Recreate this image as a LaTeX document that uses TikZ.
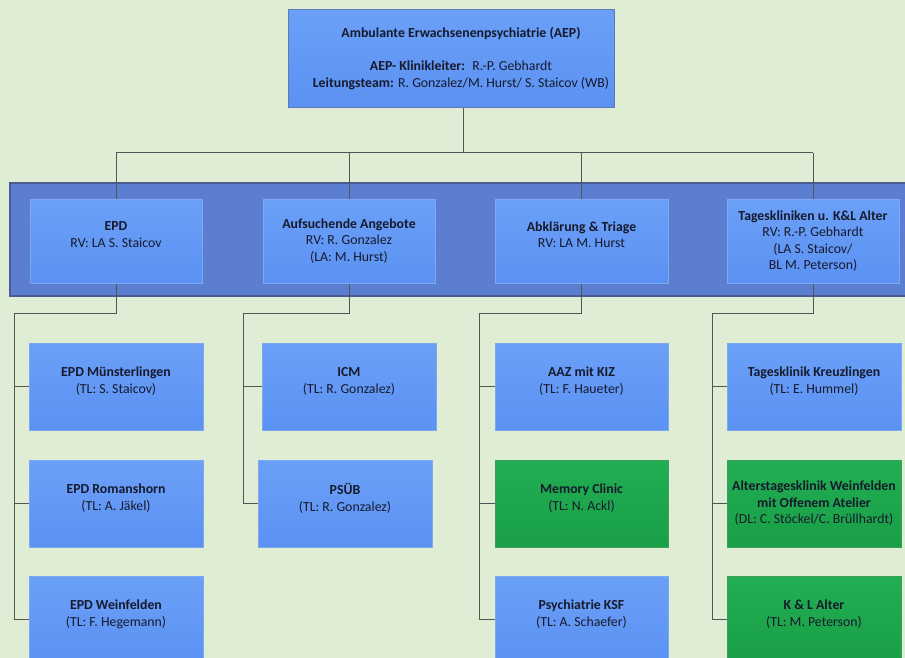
\documentclass[tikz,border=0pt]{standalone}
\usepackage{fontspec}
\setmainfont{Carlito}
\usetikzlibrary{calc}
\pgfdeclarelayer{back}\pgfdeclarelayer{mid}
\pgfsetlayers{back,mid,main}
\definecolor{bgc}{HTML}{E0EDD5}
\definecolor{bluef}{HTML}{5B91F2}
\definecolor{bluet}{HTML}{6BA0F8}
\definecolor{blueb}{HTML}{7EA9F2}
\definecolor{greenf}{HTML}{199F47}
\definecolor{greent}{HTML}{22AE53}
\definecolor{greenb}{HTML}{3E9E5E}
\definecolor{bandf}{HTML}{5B7ED0}
\definecolor{bandb}{HTML}{4A5D8E}
\definecolor{linec}{HTML}{555555}
\definecolor{txt}{HTML}{161A2C}
\begin{document}
\begin{tikzpicture}[x=1pt,y=-1pt,
  box/.style={draw=blueb, line width=0.8pt, top color=bluet, bottom color=bluef,
    text=txt, align=center, font=\fontsize{13.8}{16.5}\selectfont, inner sep=0pt},
  gbox/.style={box, draw=greenb, top color=greent, bottom color=greenf},
  lvtwo/.style={box, minimum width=172pt, minimum height=84pt},
  lvthree/.style={minimum width=174pt, minimum height=87pt},
  conn/.style={draw=linec, line width=1pt}]
\clip (0,0) rectangle (905,658);
\begin{pgfonlayer}{back}
  \fill[bgc] (0,0) rectangle (905,658);
  \path[draw=bandb, line width=1.2pt, fill=bandf] (10,183) rectangle (915,296);
\end{pgfonlayer}

% top
\node[box, minimum width=326pt, minimum height=98pt, draw=bandb!60!blueb] (top) at (451,58.5)
 {\hspace*{20pt}\textbf{Ambulante Erwachsenenpsychiatrie (AEP)}\\[16.5pt]
  \hspace*{20pt}\textbf{AEP- Klinikleiter:}~ R.-P. Gebhardt\\
  \hspace*{20pt}\textbf{Leitungsteam:} R. Gonzalez/M. Hurst/ S. Staicov (WB)};

% level 2
\node[lvtwo] (epd) at (116,241) {\textbf{EPD}\\RV: LA S. Staicov\\[-4pt]\mbox{}};
\node[lvtwo] (auf) at (349,241) {\textbf{Aufsuchende Angebote}\\RV: R. Gonzalez\\(LA: M. Hurst)};
\node[lvtwo, minimum width=173pt] (abk) at (581.5,241) {\textbf{Abklärung \& Triage}\\RV: LA M. Hurst\\[-4pt]\mbox{}};
\node[lvtwo] (tag) at (813,241) {\textbf{Tageskliniken u. K\&L Alter}\\RV: R.-P. Gebhardt\\(LA S. Staicov/\\BL M. Peterson)};

% level 3 column 1
\node[box, lvthree] (muen) at (116,386.5) {\textbf{EPD Münsterlingen}\\(TL: S. Staicov)\\[-4pt]\mbox{}};
\node[box, lvthree] (roma) at (116,503.5) {\textbf{EPD Romanshorn}\\(TL: A. Jäkel)\\[-4pt]\mbox{}};
\node[box, lvthree] (wein) at (116,619.5) {\textbf{EPD Weinfelden}\\(TL: F. Hegemann)\\[-4pt]\mbox{}};
% column 2
\node[box, lvthree] (icm) at (349,386.5) {\textbf{ICM}\\(TL: R. Gonzalez)\\[-4pt]\mbox{}};
\node[box, lvthree] (psue) at (345,503.5) {\textbf{PSÜB}\\(TL: R. Gonzalez)\\[-4pt]\mbox{}};
% column 3
\node[box, lvthree, minimum width=173pt] (aaz) at (581.5,386.5) {\textbf{AAZ mit KIZ}\\(TL: F. Haueter)\\[-4pt]\mbox{}};
\node[gbox, lvthree, minimum width=173pt] (mem) at (581.5,503.5) {\textbf{Memory Clinic}\\(TL: N. Ackl)\\[-4pt]\mbox{}};
\node[box, lvthree, minimum width=173pt] (ksf) at (581.5,619.5) {\textbf{Psychiatrie KSF}\\(TL: A. Schaefer)\\[-4pt]\mbox{}};
% column 4
\node[box, lvthree] (tkk) at (814,386.5) {\textbf{Tagesklinik Kreuzlingen}\\(TL: E. Hummel)\\[-4pt]\mbox{}};
\node[gbox, lvthree] (atk) at (814,503.5) {\textbf{Alterstagesklinik Weinfelden}\\\textbf{mit Offenem Atelier}\\(DL: C. Stöckel/C. Brüllhardt)};
\node[gbox, lvthree] (kla) at (814,619.5) {\textbf{K \& L Alter}\\(TL: M. Peterson)\\[-4pt]\mbox{}};

% junctions
\coordinate (j0) at (463,153);
\coordinate (ja) at (14,313);
\coordinate (jb) at (243,313);
\coordinate (jc) at (479,313);
\coordinate (jd) at (712,313);

\begin{pgfonlayer}{mid}
  \draw[conn] (top.south -| j0) -- (j0);
  \draw[conn] (j0 -| epd) -- (j0 -| tag);
  \foreach \n/\j in {epd/ja, auf/jb, abk/jc, tag/jd}{
    \draw[conn] (j0 -| \n) -- (\j -| \n) -- (\j);
  }
  \draw[conn] (ja) -- (ja |- wein);
  \foreach \n in {muen, roma, wein} \draw[conn] (ja |- \n) -- (\n.west);
  \draw[conn] (jb) -- (jb |- psue);
  \foreach \n in {icm, psue} \draw[conn] (jb |- \n) -- (\n.west);
  \draw[conn] (jc) -- (jc |- ksf);
  \foreach \n in {aaz, mem, ksf} \draw[conn] (jc |- \n) -- (\n.west);
  \draw[conn] (jd) -- (jd |- kla);
  \foreach \n in {tkk, atk, kla} \draw[conn] (jd |- \n) -- (\n.west);
\end{pgfonlayer}
\end{tikzpicture}
\end{document}
